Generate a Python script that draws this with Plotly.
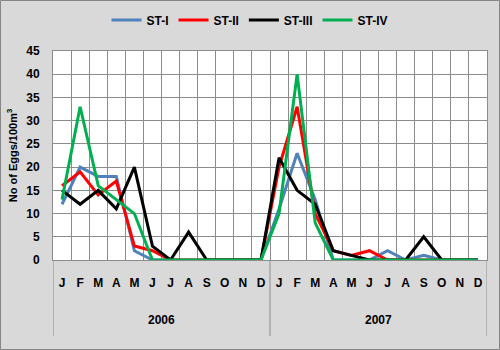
import plotly.graph_objects as go

year_labels = ["2006", "2007"]
month_letters = ["J", "F", "M", "A", "M", "J", "J", "A", "S", "O", "N", "D"]

# one category key per (year, month); the axis shows only the month letter
keys = [f"{y}-{i + 1:02d}" for y in year_labels for i in range(12)]
tick_text = month_letters * len(year_labels)

st_i = [12, 20, 18, 18, 2, 0, 0, 0, 0, 0, 0, 0,
        11, 23, 13, 0, 0, 0, 2, 0, 1, 0, 0, 0]
st_ii = [16, 19, 14, 17, 3, 2, 0, 0, 0, 0, 0, 0,
         20, 33, 10, 2, 1, 2, 0, 0, 0, 0, 0, 0]
st_iii = [15, 12, 15, 11, 20, 3, 0, 6, 0, 0, 0, 0,
          22, 15, 12, 2, 1, 0, 0, 0, 5, 0, 0, 0]
st_iv = [13, 33, 16, 13, 10, 0, 0, 0, 0, 0, 0, 0,
         10, 40, 8, 0, 0, 0, 0, 0, 0, 0, 0, 0]

series = [
    ("ST-I", st_i, "#4F81BD"),
    ("ST-II", st_ii, "#FF0000"),
    ("ST-III", st_iii, "#000000"),
    ("ST-IV", st_iv, "#00B050"),
]

FONT = "Liberation Sans"
GRID = "#8C8C8C"

fig = go.Figure()
for name, vals, col in series:
    fig.add_trace(go.Scatter(
        x=keys, y=vals, name=name, mode="lines",
        line=dict(color=col, width=3),
    ))

W, H = 500, 350
L, R, T, B = 53, 13, 51, 90
pw, ph = W - L - R, H - T - B
n = len(keys)
per_year = len(month_letters)

def py_to_paper(py):
    return (T + ph - py) / ph

# year group labels and group dividers of the hierarchical category axis
annotations = [dict(
    text=yl, xref="x", yref="paper",
    x=k * per_year + (per_year - 1) / 2, y=py_to_paper(320),
    showarrow=False, xanchor="center", yanchor="middle",
    font=dict(family=FONT, size=12, weight="bold", color="#000000"),
) for k, yl in enumerate(year_labels)]

shapes = [dict(
    type="line", xref="x", yref="paper",
    x0=k * per_year - 0.5, x1=k * per_year - 0.5,
    y0=0, y1=py_to_paper(336),
    line=dict(color=GRID, width=1),
) for k in range(len(year_labels) + 1)]

shapes.append(dict(
    type="rect", xref="paper", yref="paper",
    x0=(0.5 - L) / pw, x1=(W - 0.5 - L) / pw,
    y0=py_to_paper(H - 0.5), y1=py_to_paper(0.5),
    line=dict(color="#868686", width=1), fillcolor="rgba(0,0,0,0)",
    layer="below",
))

fig.update_layout(
    width=W, height=H, autosize=False,
    margin=dict(l=L, r=R, t=T, b=B, pad=0, autoexpand=False),
    paper_bgcolor="#D9D9D9",
    plot_bgcolor="#FFFFFF",
    font=dict(family=FONT, size=11, color="#000000", weight="bold"),
    showlegend=True,
    legend=dict(
        orientation="h", xref="container", x=0.5, xanchor="center",
        yref="container", y=1 - 20 / H, yanchor="middle",
        bgcolor="rgba(0,0,0,0)", font=dict(family=FONT, size=12, weight="bold"),
        itemwidth=30, tracegroupgap=0,
    ),
    xaxis=dict(
        type="category", automargin=False, range=[-0.5, n - 0.5],
        tickmode="array", tickvals=keys, ticktext=tick_text,
        showgrid=True, gridcolor=GRID, gridwidth=1,
        showline=True, linecolor=GRID, linewidth=1, mirror=True,
        tickson="boundaries", ticks="", ticklen=0, tickwidth=0,
        tickcolor="rgba(0,0,0,0)",
        ticklabelstandoff=12, tickangle=0,
        tickfont=dict(family=FONT, size=12, weight="bold"),
    ),
    yaxis=dict(
        range=[0, 45], dtick=5, tick0=0, automargin=False,
        showgrid=True, gridcolor=GRID, gridwidth=1,
        showline=True, linecolor=GRID, linewidth=1, mirror=True,
        ticks="", zeroline=False, ticklabelstandoff=10,
        tickfont=dict(family=FONT, size=12, weight="bold"),
        title=dict(text="No of Eggs/100m<sup>3</sup>", standoff=6,
                   font=dict(family=FONT, size=11, weight="bold")),
    ),
    annotations=annotations,
    shapes=shapes,
)

fig.write_html("out.html", config={"displayModeBar": False},
               post_script="document.body.style.margin='0px';")
